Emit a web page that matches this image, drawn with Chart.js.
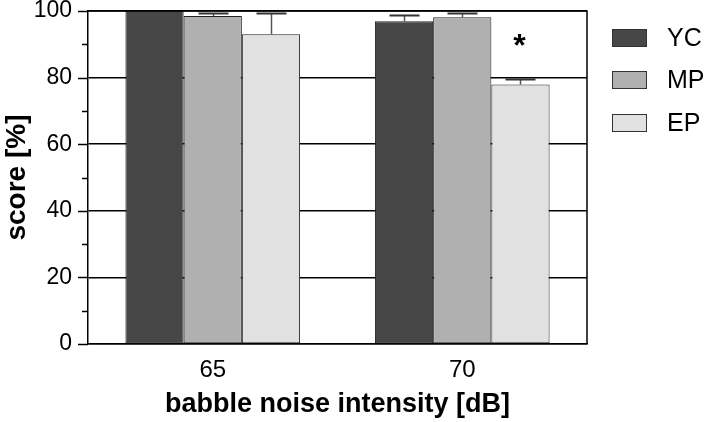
<!DOCTYPE html>
<html><head><meta charset="utf-8">
<script src="https://cdn.jsdelivr.net/npm/chart.js@4"></script>
<style>html,body{margin:0;padding:0;background:#fff}#wrap{width:710px;height:422px}</style>
</head><body><div id="wrap"><canvas id="c" width="710" height="422"></canvas></div>
<script>
const categories = ['65', '70'];
const seriesNames = ['YC', 'MP', 'EP'];
const YC = [100, 96.9];
const MP = [98.5, 98.1];
const EP = [93.0, 77.9];
const YC_err = [100, 98.9];
const MP_err = [99.4, 99.4];
const EP_err = [99.4, 79.5];
const yTicks = [0, 20, 40, 60, 80, 100];
const colors = ['#474747', '#b0b0b0', '#e1e1e1'];
const FONT = 'Liberation Sans, Arial, sans-serif';

const errTops = [YC_err, MP_err, EP_err];

const extras = {
  id: 'extras',
  beforeDatasetsDraw(chart) {
    const {ctx, chartArea: a, scales: {y}} = chart;
    ctx.save();
    ctx.strokeStyle = '#000';
    ctx.lineWidth = 1.5;
    for (let v = 0; v <= 100; v += 10) {
      const py = Math.round(y.getPixelForValue(v)) + 0.5;
      const len = (v % 20 === 0) ? 10 : 6;
      ctx.beginPath(); ctx.moveTo(a.left - len, py); ctx.lineTo(a.left, py); ctx.stroke();
    }
    ctx.restore();
  },
  afterDatasetsDraw(chart) {
    const {ctx, chartArea: a, scales: {y}} = chart;
    ctx.save();
    chart.data.datasets.forEach((ds, i) => {
      const meta = chart.getDatasetMeta(i);
      meta.data.forEach((bar, j) => {
        const top = errTops[i][j];
        const val = ds.data[j];
        if (top <= val) return;
        const x = Math.round(bar.x) + 0.5;
        const y0 = y.getPixelForValue(val);
        const y1 = Math.round(y.getPixelForValue(top)) + 0.5;
        ctx.strokeStyle = '#555';
        ctx.lineWidth = 1.5;
        ctx.beginPath(); ctx.moveTo(x, y0); ctx.lineTo(x, y1); ctx.stroke();
        ctx.strokeStyle = '#333';
        ctx.lineWidth = 2;
        ctx.beginPath(); ctx.moveTo(x - 15, y1); ctx.lineTo(x + 15, y1); ctx.stroke();
      });
    });
    ctx.strokeStyle = '#000';
    ctx.lineWidth = 1.5;
    ctx.beginPath();
    ctx.moveTo(a.left, a.top); ctx.lineTo(a.right, a.top); ctx.lineTo(a.right, a.bottom);
    ctx.stroke();
    const epBar = chart.getDatasetMeta(2).data[1];
    ctx.fillStyle = '#000';
    ctx.font = 'bold 32px ' + FONT;
    ctx.textAlign = 'center';
    ctx.textBaseline = 'middle';
    ctx.fillText('*', epBar.x - 1, y.getPixelForValue(89));
    const lx = a.right + 25;
    const rowY = [38, 80, 123];
    chart.data.datasets.forEach((ds, i) => {
      const cy = rowY[i];
      ctx.fillStyle = ds.backgroundColor;
      ctx.fillRect(lx, cy - 9, 35, 18);
      ctx.strokeStyle = '#333';
      ctx.lineWidth = 1;
      ctx.strokeRect(lx + 0.5, cy - 8.5, 34, 17);
      ctx.fillStyle = '#000';
      ctx.font = '25px ' + FONT;
      ctx.textAlign = 'left';
      ctx.textBaseline = 'middle';
      ctx.fillText(ds.label, lx + 55, cy + 1);
    });
    ctx.restore();
  }
};

new Chart(document.getElementById('c'), {
  type: 'bar',
  data: {
    labels: categories,
    datasets: [
      {label: seriesNames[0], data: YC, backgroundColor: colors[0]},
      {label: seriesNames[1], data: MP, backgroundColor: colors[1]},
      {label: seriesNames[2], data: EP, backgroundColor: colors[2]}
    ].map(d => Object.assign(d, {borderColor: '#222', borderWidth: 1, borderSkipped: false, categoryPercentage: 0.7, barPercentage: 1.0}))
  },
  options: {
    responsive: false,
    animation: false,
    devicePixelRatio: 1,
    layout: {padding: {top: 11, right: 123, left: 0, bottom: 0}},
    plugins: {legend: {display: false}, tooltip: {enabled: false}},
    scales: {
      x: {
        grid: {display: false, drawTicks: false},
        border: {color: '#000', width: 1.5},
        ticks: {color: '#000', font: {family: FONT, size: 24}, padding: 12},
        title: {display: true, text: 'babble noise intensity [dB]', color: '#000', font: {family: FONT, size: 27, weight: 'bold'}, padding: {top: 0, bottom: 1}},
        afterFit(s) { s.height = 78; s.paddingLeft = 0; s.paddingRight = 0; }
      },
      y: {
        min: 0, max: 100,
        afterBuildTicks(s) { s.ticks = yTicks.map(v => ({value: v})); },
        grid: {color: '#000', lineWidth: 1.5, drawTicks: false},
        border: {color: '#000', width: 1.5},
        ticks: {color: '#000', font: {family: FONT, size: 23}, padding: 16},
        title: {display: true, text: 'score [%]', color: '#000', font: {family: FONT, size: 28, weight: 'bold'}, padding: {top: 0, bottom: 0}},
        afterFit(s) { s.width = 88; s.paddingTop = 0; s.paddingBottom = 0; }
      }
    }
  },
  plugins: [extras]
});
</script>
</body></html>
